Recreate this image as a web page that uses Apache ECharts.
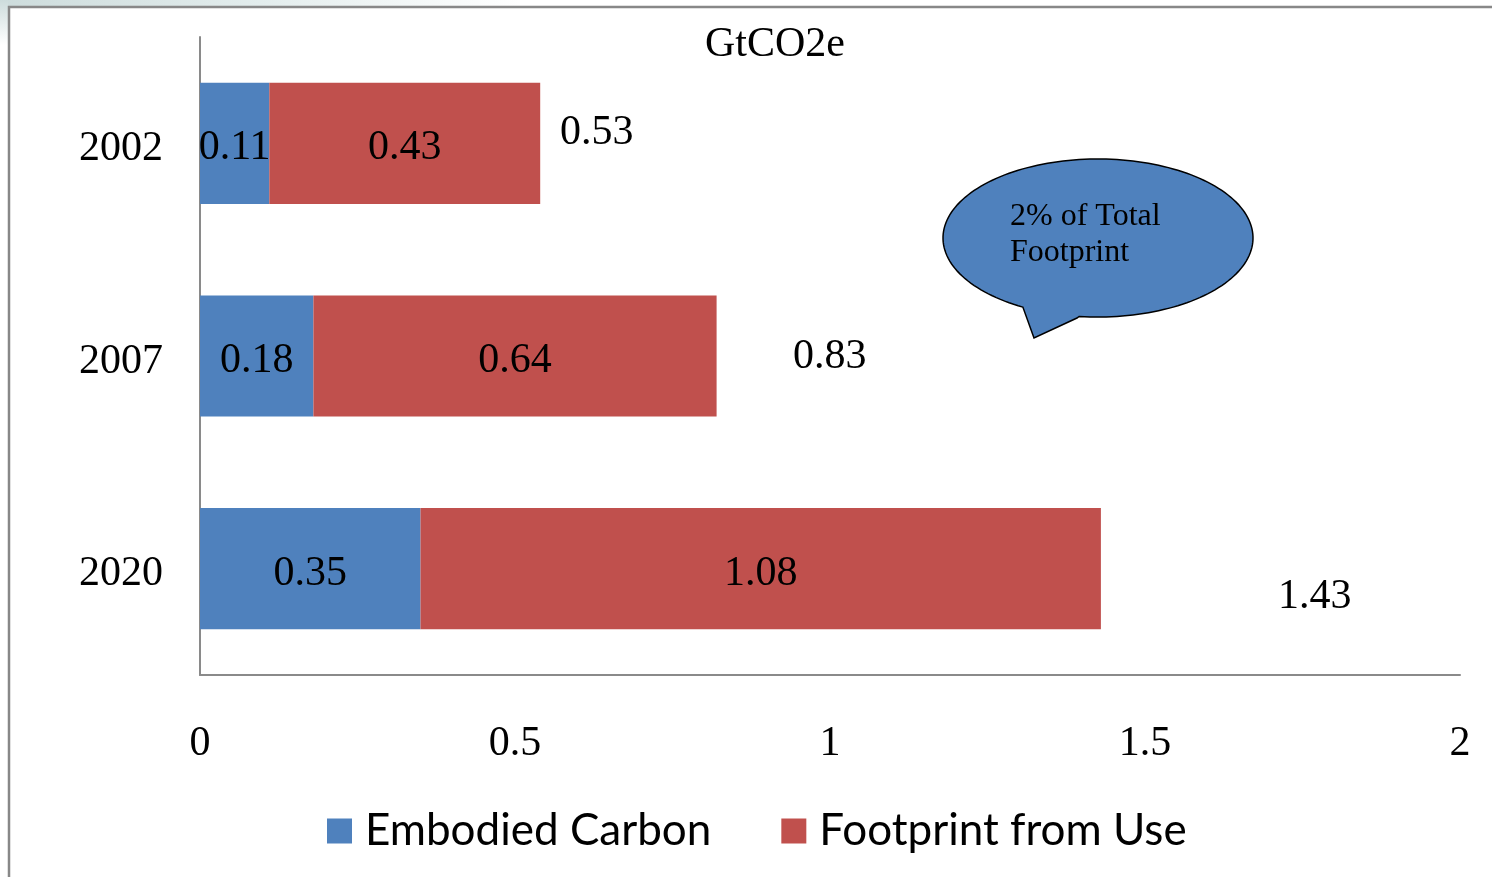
<!DOCTYPE html>
<html>
<head>
<meta charset="utf-8">
<script src="https://cdn.jsdelivr.net/npm/echarts@6/dist/echarts.min.js"></script>
<style>
html,body{margin:0;padding:0;background:#fff;}
#chart{width:1492px;height:877px;}
</style>
</head>
<body>
<div id="chart"></div>
<script>
const categories = ['2002', '2007', '2020'];
const embodied = [0.11, 0.18, 0.35];
const useFootprint = [0.43, 0.64, 1.08];
const totals = [0.53, 0.83, 1.43];
const xTicks = [0, 0.5, 1, 1.5, 2];
const unitTitle = 'GtCO2e';
const calloutText = '2% of Total\nFootprint';

// label placement styles for the total labels (offset from bar end)
const totalLabelOffsets = [[26, -10], [70, 1], [177, 28]];

// speech-bubble outline (decoration): ellipse arc + tail tip
function bubblePoints() {
  const cx = 1098, cy = 238, rx = 155, ry = 79;
  const pts = [];
  const a0 = 119, a1 = 457.7;
  for (let a = a0; a <= a1; a += 2) {
    const r = a * Math.PI / 180;
    pts.push([cx + rx * Math.cos(r), cy + ry * Math.sin(r)]);
  }
  pts.push([1077, 318]);
  pts.push([1034, 338]);
  return pts;
}

const serif = '"Liberation Serif", "DejaVu Serif", serif';
const FS = 42;
const chart = echarts.init(document.getElementById('chart'), null, {renderer: 'canvas'});

const option = {
  backgroundColor: '#ffffff',
  animation: false,
  title: {
    text: unitTitle,
    left: 770,
    top: 19,
    textAlign: 'center',
    textStyle: {fontFamily: serif, fontSize: FS, fontWeight: 'normal', color: '#000'}
  },
  grid: {left: 200, right: 32, top: 37, bottom: 202, containLabel: false},
  xAxis: {
    type: 'value',
    min: xTicks[0],
    max: xTicks[xTicks.length - 1],
    interval: xTicks[1] - xTicks[0],
    splitLine: {show: false},
    axisTick: {show: false},
    axisLine: {show: true, lineStyle: {color: '#8a8a8a', width: 2}},
    axisLabel: {
      margin: 48,
      fontFamily: serif, fontSize: FS, color: '#000',
      formatter: v => String(v)
    }
  },
  yAxis: {
    type: 'category',
    data: categories,
    inverse: true,
    axisTick: {show: false},
    axisLine: {show: true, lineStyle: {color: '#8a8a8a', width: 2}},
    axisLabel: {
      margin: 37,
      formatter: '{a|{value}}',
      rich: {a: {fontFamily: serif, fontSize: FS, color: '#000', padding: [11, 0, 0, 0]}}
    }
  },
  legend: {
    data: ['Embodied Carbon', 'Footprint from Use'],
    left: 327,
    top: 809,
    padding: 0,
    icon: 'rect',
    itemWidth: 25,
    itemHeight: 25,
    itemGap: 70,
    textStyle: {fontFamily: 'Lato, "Open Sans", sans-serif', fontSize: 44, color: '#000', padding: [0, 0, 0, 8], lineHeight: 44}
  },
  series: [
    {
      name: 'Embodied Carbon',
      type: 'bar',
      stack: 'total',
      data: embodied,
      barCategoryGap: '43%',
      itemStyle: {color: '#4F81BD'},
      label: {show: true, position: 'inside', offset: [0, 5], fontFamily: serif, fontSize: FS, color: '#000', formatter: p => p.value.toFixed(2)}
    },
    {
      name: 'Footprint from Use',
      type: 'bar',
      stack: 'total',
      data: useFootprint,
      itemStyle: {color: '#C0504D'},
      label: {show: true, position: 'inside', offset: [0, 5], fontFamily: serif, fontSize: FS, color: '#000', formatter: p => p.value.toFixed(2)}
    },
    {
      name: 'Total',
      type: 'bar',
      stack: 'sum',
      barGap: '-100%',
      silent: true,
      data: totals.map((v, i) => ({
        value: v,
        label: {offset: totalLabelOffsets[i]}
      })),
      itemStyle: {color: 'rgba(0,0,0,0)'},
      label: {show: true, position: 'right', distance: 0, fontFamily: serif, fontSize: FS, color: '#000', formatter: p => p.value.toFixed(2)},
      z: 1
    }
  ],
  graphic: [
    {
      type: 'rect', silent: true, z: -1,
      shape: {x: 0, y: 0, width: 520, height: 6},
      style: {fill: new echarts.graphic.LinearGradient(0, 0, 1, 0, [
        {offset: 0, color: '#cddcdc'}, {offset: 0.5, color: '#e3eded'}, {offset: 1, color: '#ffffff'}
      ])}
    },
    {
      type: 'rect', silent: true, z: -1,
      shape: {x: 0, y: 0, width: 8, height: 45},
      style: {fill: new echarts.graphic.LinearGradient(0, 0, 0, 1, [
        {offset: 0, color: '#cddcdc'}, {offset: 1, color: '#ffffff'}
      ])}
    },
    {
      type: 'polyline', silent: true,
      shape: {points: [[9, 877], [9, 7], [1492, 7]]},
      style: {stroke: '#888888', lineWidth: 2.5, fill: null}
    },
    {
      type: 'polygon', silent: true, z: 10,
      shape: {points: bubblePoints()},
      style: {fill: '#4F81BD', stroke: '#000', lineWidth: 1.5}
    },
    {
      type: 'text', silent: true, z: 11,
      left: 1010, top: 199,
      style: {text: calloutText, font: '32px "Liberation Serif", serif', lineHeight: 36, fill: '#000'}
    }
  ]
};
chart.setOption(option);
</script>
</body>
</html>
